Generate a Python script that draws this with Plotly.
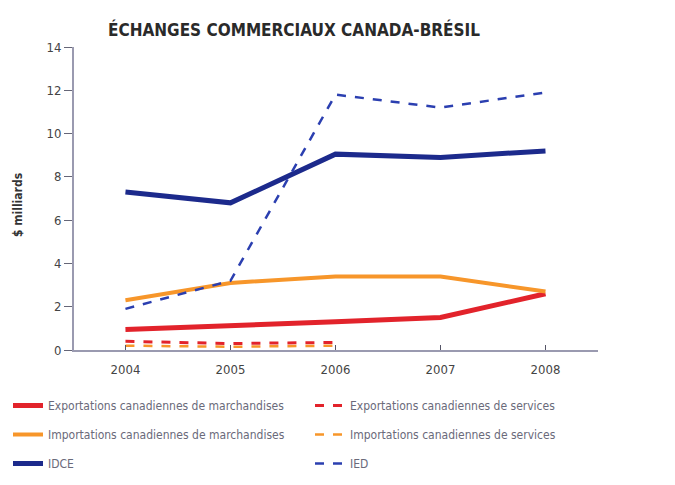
import plotly.graph_objects as go

years = [2004, 2005, 2006, 2007, 2008]
years_services = [2004, 2005, 2006]

exports_merch = [0.95, 1.1, 1.3, 1.5, 2.6]
imports_merch = [2.3, 3.1, 3.4, 3.4, 2.7]
idce = [7.3, 6.8, 9.05, 8.9, 9.2]
ied = [1.9, 3.2, 11.8, 11.2, 11.9]
exports_services = [0.4, 0.3, 0.35]
imports_services = [0.2, 0.15, 0.2]

names = [
    "Exportations canadiennes de marchandises",
    "Exportations canadiennes de services",
    "Importations canadiennes de marchandises",
    "Importations canadiennes de services",
    "IDCE",
    "IED",
]
y_ticks = [0, 2, 4, 6, 8, 10, 12, 14]

RED = "#e2232b"
ORANGE = "#f7962a"
NAVY = "#1c2a8c"
BLUE = "#2b3fb0"

FONT = "DejaVu Sans Condensed, Liberation Sans Narrow, sans-serif"

fig = go.Figure()
fig.add_trace(go.Scatter(x=years, y=exports_merch, name=names[0], mode="lines",
                         legend="legend", legendgroup="a",
                         line=dict(color=RED, width=5)))
fig.add_trace(go.Scatter(x=years_services, y=exports_services, name=names[1], mode="lines",
                         legend="legend2", legendgroup="b",
                         line=dict(color=RED, width=3, dash="dash")))
fig.add_trace(go.Scatter(x=years, y=imports_merch, name=names[2], mode="lines",
                         legend="legend", legendgroup="c",
                         line=dict(color=ORANGE, width=4)))
fig.add_trace(go.Scatter(x=years_services, y=imports_services, name=names[3], mode="lines",
                         legend="legend2", legendgroup="d",
                         line=dict(color=ORANGE, width=2.5, dash="dash")))
fig.add_trace(go.Scatter(x=years, y=idce, name=names[4], mode="lines",
                         legend="legend", legendgroup="e",
                         line=dict(color=NAVY, width=5)))
fig.add_trace(go.Scatter(x=years, y=ied, name=names[5], mode="lines",
                         legend="legend2", legendgroup="f",
                         line=dict(color=BLUE, width=2.5, dash="dash")))

legend_common = dict(orientation="v", xref="container", yref="container",
                     yanchor="top", xanchor="left", tracegroupgap=10,
                     font=dict(family=FONT, size=12, color="#6a6a7a"),
                     itemwidth=30, traceorder="grouped", bgcolor="rgba(0,0,0,0)")

L, R, T, B = 66, 85, 39, 143
W, H = 675, 485
plot_w = W - L - R
plot_h = H - T - B

fig.update_layout(
    width=W, height=H,
    margin=dict(l=L, r=R, t=T, b=B, autoexpand=False),
    paper_bgcolor="white", plot_bgcolor="white",
    font=dict(family=FONT, color="#444444", size=13),
    title=dict(text="<b>ÉCHANGES COMMERCIAUX CANADA-BRÉSIL</b>",
               x=100 / W, xanchor="left", y=1 - 22 / H, yanchor="middle",
               font=dict(family=FONT, size=17, color="#2a2a2a")),
    showlegend=True,
    legend=dict(x=0.0, y=1 - 383 / H, **legend_common),
    legend2=dict(x=302 / W, y=1 - 383 / H, **legend_common),
    xaxis=dict(range=[2003.51, 2008.5], tickvals=years, ticktext=[str(y) for y in years],
               showgrid=False, zeroline=False, showline=True, linecolor="#9a9ab0", linewidth=2,
               ticks="inside", ticklen=5, tickcolor="#555566", ticklabelstandoff=6,
               tickfont=dict(size=13, color="#444444")),
    yaxis=dict(range=[0, 14], tickvals=y_ticks, showgrid=False, zeroline=False,
               showline=True, linecolor="#9a9ab0", linewidth=2,
               ticks="outside", ticklen=8, tickcolor="#666677",
               tickfont=dict(size=13, color="#444444")),
    annotations=[dict(text="<b>$ milliards</b>", xref="paper", yref="paper",
                      x=(10 - L) / plot_w, y=(H - B - 197) / plot_h,
                      textangle=-90, showarrow=False, xanchor="center", yanchor="middle",
                      font=dict(family=FONT, size=12, color="#333333"))],
)

fig.write_html("out.html")
